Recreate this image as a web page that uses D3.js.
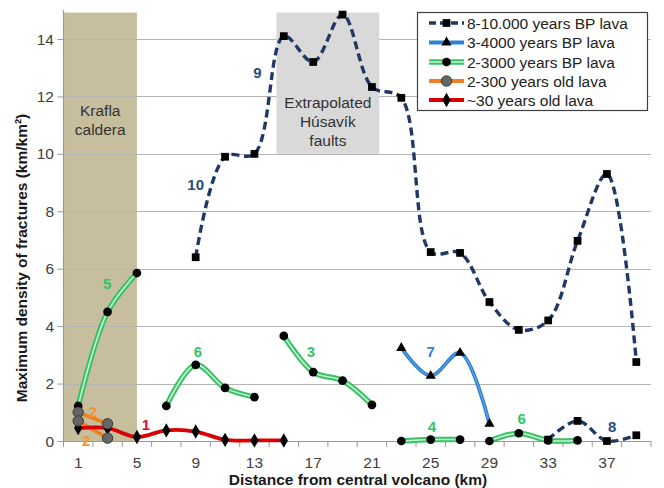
<!DOCTYPE html>
<html>
<head>
<meta charset="utf-8">
<script src="https://cdn.jsdelivr.net/npm/d3@7"></script>
<style>
  html, body { margin: 0; padding: 0; background: #fff; }
  svg { display: block; font-family: "Liberation Sans", Arial, sans-serif; }
</style>
</head>
<body>
<svg id="chart" width="664" height="488"></svg>
<script>
// ---------- DATA ----------
const xTickLabels = [1, 5, 9, 13, 17, 21, 25, 29, 33, 37];
const yTickLabels = [0, 2, 4, 6, 8, 10, 12, 14];
const xMinorTicks = d3.range(0, 41, 2);

// 8-10.000 years BP lava (two segments)
const lava10kDistA = [9, 11, 13, 15, 17, 19, 21, 23, 25, 27, 29, 31, 33, 35, 37, 39];
const lava10kValA  = [6.4, 9.9, 10.0, 14.1, 13.2, 14.85, 12.33, 11.95, 6.58, 6.55, 4.84, 3.87, 4.2, 6.97, 9.3, 2.75];
const lava10kDistB = [33, 35, 37, 39];
const lava10kValB  = [0.05, 0.7, 0.0, 0.2];

// 3-4000 years BP lava
const lava4kDist = [23, 25, 27, 29];
const lava4kVal  = [3.24, 2.27, 3.07, 0.6];

// 2-3000 years BP lava (segments)
const lava3kDist5 = [1, 3, 5];          const lava3kVal5 = [1.22, 4.5, 5.85];
const lava3kDist6 = [7, 9, 11, 13];     const lava3kVal6 = [1.22, 2.65, 1.85, 1.53];
const lava3kDist3 = [15, 17, 19, 21];   const lava3kVal3 = [3.66, 2.4, 2.1, 1.26];
const lava3kDist4 = [23, 25, 27];       const lava3kVal4 = [0.0, 0.05, 0.05];
const lava3kDist6b = [29, 31, 33, 35];  const lava3kVal6b = [0.0, 0.27, 0.02, 0.02];

// 2-300 years old lava
const lava300DistA = [1, 3]; const lava300ValA = [1.0, 0.6];
const lava300DistB = [1, 3]; const lava300ValB = [0.7, 0.1];

// ~30 years old lava
const lava30Dist = [1, 3, 5, 7, 9, 11, 13, 15];
const lava30Val  = [0.45, 0.45, 0.14, 0.37, 0.33, 0.04, 0.02, 0.02];

// Segment labels
const segLabelText = ["10", "9", "8", "5", "6", "3", "7", "4", "6", "2", "2", "1"];
const segLabelX    = [9.0, 13.2, 37.35, 2.97, 9.16, 16.85, 25.0, 25.08, 31.2, 2.0, 1.54, 5.62];
const segLabelY    = [8.92, 12.82, 0.52, 5.5, 3.13, 3.13, 3.1, 0.49, 0.8, 1.04, 0.03, 0.59];
const segLabelSeries = ["a", "a", "a", "g", "g", "g", "b", "g", "g", "o", "o", "r"];

// Shaded regions
const kraflaX = [0, 5];   const kraflaY = [0, 14.92];
const husavikX = [14.5, 21.5]; const husavikY = [10, 14.92];

const legendLabels = ["8-10.000 years BP lava", "3-4000 years BP lava", "2-3000 years BP lava", "2-300 years old lava", "~30 years old lava"];

// ---------- STYLE ----------
const colors = { a: "#1f3864", b: "#2f80d0", g: "#36c265", o: "#f07f1e", r: "#d80000" };
const labelColors = { a: "#2b4a80", b: "#2f80d0", g: "#2ec76a", o: "#f39530", r: "#e0102a" };

const svg = d3.select("#chart");
const x = d3.scaleLinear().domain([0, 40]).range([63.5, 651]);
const y = d3.scaleLinear().domain([0, 15]).range([441, 10.3]);

// Krafla caldera shading
svg.append("rect")
  .attr("x", x(kraflaX[0])).attr("y", y(kraflaY[1]))
  .attr("width", x(kraflaX[1]) - x(kraflaX[0]))
  .attr("height", y(kraflaY[0]) - y(kraflaY[1]))
  .attr("fill", "#c6be9c");

// gridlines
svg.append("g").selectAll("line").data(yTickLabels.filter(d => d > 0)).join("line")
  .attr("x1", x(0)).attr("x2", x(40))
  .attr("y1", d => Math.round(y(d)) + 0.5).attr("y2", d => Math.round(y(d)) + 0.5)
  .attr("stroke", "#b4b4b4").attr("stroke-width", 1.2);

// Husavik box
svg.append("rect")
  .attr("x", x(husavikX[0])).attr("y", y(husavikY[1]))
  .attr("width", x(husavikX[1]) - x(husavikX[0]))
  .attr("height", y(husavikY[0]) - y(husavikY[1]))
  .attr("fill", "#d9d9d9");

// Region texts
const regTxt = svg.append("g").attr("fill", "#333").attr("font-size", "15.5px").attr("text-anchor", "middle");
regTxt.append("text").attr("x", x(2.5)).attr("y", 116).text("Krafla");
regTxt.append("text").attr("x", x(2.5)).attr("y", 135).text("caldera");
regTxt.append("text").attr("x", x(18)).attr("y", 108).text("Extrapolated");
regTxt.append("text").attr("x", x(18)).attr("y", 127).text("Húsavík");
regTxt.append("text").attr("x", x(18)).attr("y", 146).text("faults");

// Axes
const axisColor = "#9a9a9a";
svg.append("line").attr("x1", x(0)).attr("x2", x(40)).attr("y1", y(0) + 0.5).attr("y2", y(0) + 0.5)
  .attr("stroke", axisColor).attr("stroke-width", 1.2);
svg.append("line").attr("x1", x(0)).attr("x2", x(0)).attr("y1", y(15)).attr("y2", y(0) + 0.5)
  .attr("stroke", axisColor).attr("stroke-width", 1.2);
svg.append("g").selectAll("line").data(xMinorTicks).join("line")
  .attr("x1", d => x(d)).attr("x2", d => x(d)).attr("y1", y(0)).attr("y2", y(0) + 6)
  .attr("stroke", axisColor);
svg.append("g").selectAll("line").data(yTickLabels).join("line")
  .attr("x1", x(0) - 6).attr("x2", x(0)).attr("y1", d => y(d) + 0.5).attr("y2", d => y(d) + 0.5)
  .attr("stroke", axisColor);

svg.append("g").attr("fill", "#404040").attr("font-size", "15.5px").attr("text-anchor", "end")
  .selectAll("text").data(yTickLabels).join("text")
  .attr("x", 54).attr("y", d => y(d) + 5.5).text(d => d);
svg.append("g").attr("fill", "#404040").attr("font-size", "15.5px").attr("text-anchor", "middle")
  .selectAll("text").data(xTickLabels).join("text")
  .attr("x", d => x(d)).attr("y", 468).text(d => d);

svg.append("text").attr("x", 358).attr("y", 485).attr("text-anchor", "middle")
  .attr("font-size", "15.5px").attr("font-weight", "bold").attr("fill", "#1a1a1a")
  .text("Distance from central volcano (km)");
svg.append("text").attr("transform", "translate(27,258) rotate(-90)").attr("text-anchor", "middle")
  .attr("font-size", "15.5px").attr("font-weight", "bold").attr("fill", "#1a1a1a")
  .text("Maximum density of fractures (km/km²)");

// ---------- LINES ----------
const line = d3.line().x(d => x(d[0])).y(d => y(d[1])).curve(d3.curveCatmullRom.alpha(0.5));
const zipPts = (xs, ys) => xs.map((v, i) => [v, ys[i]]);

function drawGreen(pts) {
  svg.append("path").attr("d", line(pts)).attr("fill", "none").attr("stroke", colors.g).attr("stroke-width", 5.5);
  svg.append("path").attr("d", line(pts)).attr("fill", "none").attr("stroke", "#c9f2d4").attr("stroke-width", 1.6);
}

// green segments
const greenSegs = [
  zipPts(lava3kDist5, lava3kVal5), zipPts(lava3kDist6, lava3kVal6), zipPts(lava3kDist3, lava3kVal3),
  zipPts(lava3kDist4, lava3kVal4), zipPts(lava3kDist6b, lava3kVal6b)
];
greenSegs.forEach(drawGreen);

// orange
const orangeSegs = [zipPts(lava300DistA, lava300ValA), zipPts(lava300DistB, lava300ValB)];
orangeSegs.forEach(p => svg.append("path").attr("d", line(p)).attr("fill", "none")
  .attr("stroke", colors.o).attr("stroke-width", 3.5));

// red
const redPts = zipPts(lava30Dist, lava30Val);
svg.append("path").attr("d", line(redPts)).attr("fill", "none").attr("stroke", colors.r).attr("stroke-width", 3.8);

// blue
const bluePts = zipPts(lava4kDist, lava4kVal);
svg.append("path").attr("d", line(bluePts)).attr("fill", "none").attr("stroke", colors.b).attr("stroke-width", 3.8);
svg.append("path").attr("d", line(bluePts)).attr("fill", "none").attr("stroke", "#6fb0ec").attr("stroke-width", 1);

// navy dashed
const navySegs = [zipPts(lava10kDistA, lava10kValA), zipPts(lava10kDistB, lava10kValB)];
navySegs.forEach(p => svg.append("path").attr("d", line(p)).attr("fill", "none")
  .attr("stroke", colors.a).attr("stroke-width", 3.4).attr("stroke-dasharray", "8,4.5"));

// ---------- MARKERS ----------
const sym = (type, size) => d3.symbol().type(type).size(size)();
function markers(pts, type, size, fill, stroke) {
  svg.append("g").selectAll("path").data(pts).join("path")
    .attr("transform", d => `translate(${x(d[0])},${y(d[1])})`)
    .attr("d", sym(type, size)).attr("fill", fill).attr("stroke", stroke || "none");
}
greenSegs.forEach(p => markers(p, d3.symbolCircle, 60, "#000"));
markers(redPts, d3.symbolDiamond, 60, "#000");
orangeSegs.forEach(p => markers(p, d3.symbolCircle, 85, "#666", "#3a3a3a"));
markers(bluePts, d3.symbolTriangle, 45, "#000");
navySegs.forEach(p => markers(p, d3.symbolSquare, 60, "#000"));

// ---------- SEGMENT LABELS ----------
svg.append("g").attr("font-size", "15px").attr("font-weight", "bold").attr("text-anchor", "middle")
  .selectAll("text").data(segLabelText).join("text")
  .attr("x", (d, i) => x(segLabelX[i])).attr("y", (d, i) => y(segLabelY[i]) + 5.5)
  .attr("fill", (d, i) => labelColors[segLabelSeries[i]]).text(d => d);

// ---------- LEGEND ----------
const lg = svg.append("g");
lg.append("rect").attr("x", 417.5).attr("y", 12.5).attr("width", 230).attr("height", 98)
  .attr("fill", "#fff").attr("stroke", "#404040").attr("stroke-width", 1.2);
const legY = [23, 42.5, 62, 81, 100];
const legKeys = ["a", "b", "g", "o", "r"];
legKeys.forEach((k, i) => {
  const yy = legY[i];
  if (k === "g") {
    lg.append("line").attr("x1", 429).attr("x2", 464).attr("y1", yy).attr("y2", yy).attr("stroke", colors.g).attr("stroke-width", 5.5);
    lg.append("line").attr("x1", 429).attr("x2", 464).attr("y1", yy).attr("y2", yy).attr("stroke", "#c9f2d4").attr("stroke-width", 1.6);
  } else {
    lg.append("line").attr("x1", 429).attr("x2", 464).attr("y1", yy).attr("y2", yy)
      .attr("stroke", colors[k]).attr("stroke-width", k === "a" ? 3.4 : 3.8)
      .attr("stroke-dasharray", k === "a" ? "7,4" : null);
  }
  const t = { a: [d3.symbolSquare, 60, "#000"], b: [d3.symbolTriangle, 45, "#000"], g: [d3.symbolCircle, 60, "#000"],
              o: [d3.symbolCircle, 85, "#666"], r: [d3.symbolDiamond, 60, "#000"] }[k];
  lg.append("path").attr("transform", `translate(446.5,${yy})`).attr("d", sym(t[0], t[1]))
    .attr("fill", t[2]).attr("stroke", k === "o" ? "#3a3a3a" : "none");
  lg.append("text").attr("x", 467).attr("y", yy + 5.5).attr("font-size", "15.5px").attr("fill", "#222")
    .text(legendLabels[i]);
});
</script>
</body>
</html>
